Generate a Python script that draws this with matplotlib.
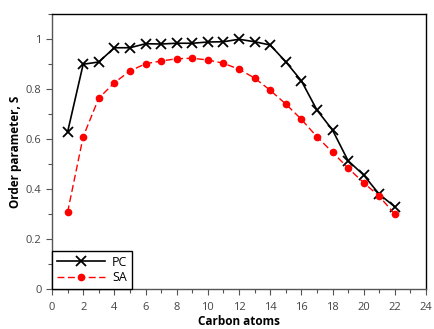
import matplotlib
matplotlib.use("Agg")
import matplotlib.pyplot as plt
from matplotlib.ticker import MultipleLocator

carbons = list(range(1, 23))
pc = [0.628, 0.899, 0.908, 0.965, 0.965, 0.981, 0.980, 0.983, 0.983, 0.988,
      0.989, 0.999, 0.989, 0.976, 0.909, 0.833, 0.716, 0.636, 0.513, 0.456,
      0.379, 0.329]
sa = [0.307, 0.609, 0.763, 0.825, 0.872, 0.901, 0.912, 0.921, 0.923, 0.916,
      0.903, 0.879, 0.844, 0.795, 0.740, 0.679, 0.609, 0.547, 0.484, 0.425,
      0.371, 0.299]
x_ticks = [0, 2, 4, 6, 8, 10, 12, 14, 16, 18, 20, 22, 24]
y_ticks = [0, 0.2, 0.4, 0.6, 0.8, 1]
y_ticklabels = ["0", "0.2", "0.4", "0.6", "0.8", "1"]

plt.rcParams['font.family'] = ['Open Sans', 'DejaVu Sans']

fig = plt.figure(figsize=(4.34, 3.29), dpi=100)
ax = fig.add_axes([52/434, 1 - 289/329, (426-52)/434, (289-14)/329])

ax.plot(carbons, pc, color='black', lw=1.2, marker='x', ms=7, mew=1.3, label='PC')
ax.plot(carbons, sa, color='red', lw=1.0, ls=(0, (5, 2.5)), marker='o', ms=4.5,
        label='SA')

ax.set_xlim(0, 24)
ax.set_ylim(0, 1.1)
ax.set_xticks(x_ticks)
ax.set_yticks(y_ticks)
ax.set_yticklabels(y_ticklabels)
ax.xaxis.set_minor_locator(MultipleLocator(1))
ax.yaxis.set_minor_locator(MultipleLocator(0.1))
ax.tick_params(which='major', direction='out', length=4, width=0.8,
               colors='#555555', labelcolor='#444444', labelsize=8)
ax.tick_params(which='minor', direction='out', length=3, width=0.8, colors='#555555')
ax.tick_params(axis='x', pad=5)

for side in ['left', 'bottom']:
    ax.spines[side].set_color('#555555')
for side in ['top', 'right']:
    ax.spines[side].set_color('black')
for s in ax.spines.values():
    s.set_linewidth(1.0)

ax.set_xlabel('Carbon atoms', fontsize=8.5, fontweight='bold', labelpad=2)
ax.set_ylabel('Order parameter, S', fontsize=8.5, fontweight='bold', labelpad=3)

leg = ax.legend(loc='lower left', borderaxespad=0, fancybox=False, framealpha=1,
                edgecolor='black', fontsize=9, handlelength=3.8, borderpad=0.4,
                labelspacing=0.2, handletextpad=0.6)
leg.get_frame().set_linewidth(1.0)

fig.savefig('out.png', dpi=100)
